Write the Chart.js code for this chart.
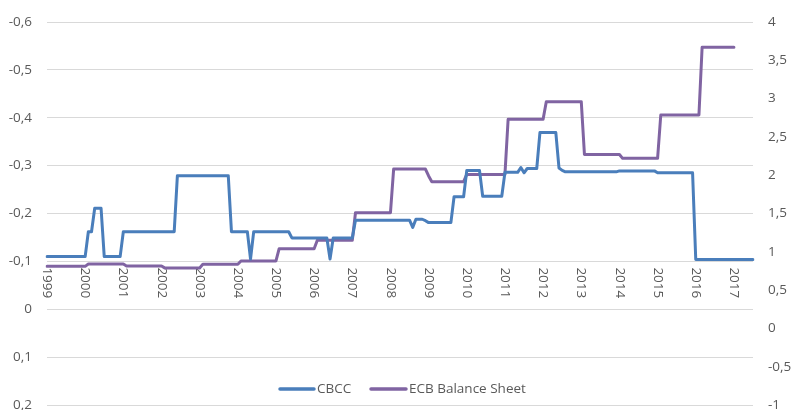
<!DOCTYPE html>
<html>
<head>
<meta charset="utf-8">
<script src="https://cdn.jsdelivr.net/npm/chart.js@4.4.1/dist/chart.umd.min.js"></script>
<style>
    html, body { margin: 0; padding: 0; background: #ffffff; overflow: hidden; }
</style>
</head>
<body>
<canvas id="mainChart" width="792" height="410"></canvas>
<script>
// años del eje X (una etiqueta por enero)
const yearLabels = ["1999", "2000", "2001", "2002", "2003", "2004", "2005", "2006", "2007",
    "2008", "2009", "2010", "2011", "2012", "2013", "2014", "2015", "2016", "2017"];
const monthNames = ["01", "02", "03", "04", "05", "06", "07", "08", "09", "10", "11", "12"];
const lastMonth = "2017-07";

// categorias mensuales 1999-01 .. 2017-07
const months = [];
yearLabels.forEach(function (y) {
    monthNames.forEach(function (m) {
        if (y + "-" + m <= lastMonth) months.push(y + "-" + m);
    });
});

// CBCC (eje izquierdo, invertido)
const cbcc = [
    -0.11, -0.11, -0.11, -0.11, -0.11, -0.11, -0.11, -0.11, -0.11, -0.11, -0.11, -0.11, -0.11,
    -0.162, -0.162,
    -0.211, -0.211, -0.211,
    -0.11, -0.11, -0.11, -0.11, -0.11, -0.11,
    -0.162, -0.162, -0.162, -0.162, -0.162, -0.162, -0.162, -0.162, -0.162, -0.162, -0.162, -0.162, -0.162, -0.162, -0.162, -0.162, -0.162,
    -0.279, -0.279, -0.279, -0.279, -0.279, -0.279, -0.279, -0.279, -0.279, -0.279, -0.279, -0.279, -0.279, -0.279, -0.279, -0.279, -0.279,
    -0.162, -0.162, -0.162, -0.162, -0.162, -0.162,
    -0.105,
    -0.162, -0.162, -0.162, -0.162, -0.162, -0.162, -0.162, -0.162, -0.162, -0.162, -0.162, -0.162,
    -0.149, -0.149, -0.149, -0.149, -0.149, -0.149, -0.149, -0.149, -0.149, -0.149, -0.149, -0.149,
    -0.105,
    -0.149, -0.149, -0.149, -0.149, -0.149, -0.149, -0.149,
    -0.186, -0.186, -0.186, -0.186, -0.186, -0.186, -0.186, -0.186, -0.186, -0.186, -0.186, -0.186, -0.186, -0.186, -0.186, -0.186, -0.186, -0.186,
    -0.171,
    -0.188, -0.188, -0.188,
    -0.185,
    -0.181, -0.181, -0.181, -0.181, -0.181, -0.181, -0.181, -0.181,
    -0.235, -0.235, -0.235, -0.235,
    -0.29, -0.29, -0.29, -0.29, -0.29,
    -0.236, -0.236, -0.236, -0.236, -0.236, -0.236, -0.236,
    -0.286, -0.286, -0.286, -0.286, -0.286,
    -0.296,
    -0.285,
    -0.294, -0.294, -0.294, -0.294,
    -0.369, -0.369, -0.369, -0.369, -0.369, -0.369,
    -0.295,
    -0.29,
    -0.287, -0.287, -0.287, -0.287, -0.287, -0.287, -0.287, -0.287, -0.287, -0.287, -0.287, -0.287, -0.287, -0.287, -0.287, -0.287, -0.287,
    -0.289, -0.289, -0.289, -0.289, -0.289, -0.289, -0.289, -0.289, -0.289, -0.289, -0.289, -0.289,
    -0.285, -0.285, -0.285, -0.285, -0.285, -0.285, -0.285, -0.285, -0.285, -0.285, -0.285, -0.285,
    -0.104, -0.104, -0.104, -0.104, -0.104, -0.104, -0.104, -0.104, -0.104, -0.104, -0.104, -0.104, -0.104, -0.104, -0.104, -0.104, -0.104, -0.104, -0.104
];

// ECB Balance Sheet (eje derecho)
const ecbBalance = [
    0.81, 0.81, 0.81, 0.81, 0.81, 0.81, 0.81, 0.81, 0.81, 0.81, 0.81, 0.81, 0.81,
    0.84, 0.84, 0.84, 0.84, 0.84, 0.84, 0.84, 0.84, 0.84, 0.84, 0.84, 0.84,
    0.815, 0.815, 0.815, 0.815, 0.815, 0.815, 0.815, 0.815, 0.815, 0.815, 0.815, 0.815,
    0.79, 0.79, 0.79, 0.79, 0.79, 0.79, 0.79, 0.79, 0.79, 0.79, 0.79, 0.79,
    0.837, 0.837, 0.837, 0.837, 0.837, 0.837, 0.837, 0.837, 0.837, 0.837, 0.837, 0.837,
    0.88, 0.88, 0.88, 0.88, 0.88, 0.88, 0.88, 0.88, 0.88, 0.88, 0.88, 0.88,
    1.04, 1.04, 1.04, 1.04, 1.04, 1.04, 1.04, 1.04, 1.04, 1.04, 1.04, 1.04,
    1.15, 1.15, 1.15, 1.15, 1.15, 1.15, 1.15, 1.15, 1.15, 1.15, 1.15, 1.15,
    1.51, 1.51, 1.51, 1.51, 1.51, 1.51, 1.51, 1.51, 1.51, 1.51, 1.51, 1.51,
    2.08, 2.08, 2.08, 2.08, 2.08, 2.08, 2.08, 2.08, 2.08, 2.08, 2.08,
    1.99,
    1.915, 1.915, 1.915, 1.915, 1.915, 1.915, 1.915, 1.915, 1.915, 1.915, 1.915,
    2.01, 2.01, 2.01, 2.01, 2.01, 2.01, 2.01, 2.01, 2.01, 2.01, 2.01, 2.01, 2.01,
    2.73, 2.73, 2.73, 2.73, 2.73, 2.73, 2.73, 2.73, 2.73, 2.73, 2.73, 2.73,
    2.96, 2.96, 2.96, 2.96, 2.96, 2.96, 2.96, 2.96, 2.96, 2.96, 2.96, 2.96,
    2.27, 2.27, 2.27, 2.27, 2.27, 2.27, 2.27, 2.27, 2.27, 2.27, 2.27, 2.27,
    2.22, 2.22, 2.22, 2.22, 2.22, 2.22, 2.22, 2.22, 2.22, 2.22, 2.22, 2.22,
    2.786, 2.786, 2.786, 2.786, 2.786, 2.786, 2.786, 2.786, 2.786, 2.786, 2.786, 2.786, 2.786,
    3.67, 3.67, 3.67, 3.67, 3.67, 3.67, 3.67, 3.67, 3.67, 3.67, 3.67,
    null, null, null, null, null, null
];

const seriesNames = ["CBCC", "ECB Balance Sheet"];
const seriesColors = ["#4a7ebb", "#8064a2"];

const textColor = "#595959";
const fontFamily = "'Open Sans', sans-serif";
const fontSize = 13.5;

// numeros con coma decimal
function fmt(v) {
    var r = Math.round(v * 10) / 10;
    return String(r).replace(".", ",");
}

// etiquetas de años giradas, bajo la linea de -0,1
const yearTicksPlugin = {
    id: "yearTicks",
    beforeDatasetsDraw: function (chart) {
        var ctx = chart.ctx;
        var xs = chart.scales.x;
        var top = chart.scales.y.getPixelForValue(-0.1) + 6;
        ctx.save();
        ctx.fillStyle = textColor;
        ctx.font = fontSize + "px " + fontFamily;
        ctx.textAlign = "left";
        ctx.textBaseline = "middle";
        yearLabels.forEach(function (y) {
            var i = months.indexOf(y + "-01");
            if (i < 0) return;
            ctx.save();
            ctx.translate(xs.getPixelForValue(i), top);
            ctx.rotate(Math.PI / 2);
            ctx.fillText(y, 0, 0);
            ctx.restore();
        });
        ctx.restore();
    }
};

// leyenda dentro del area (abajo, centrada)
const legendPlugin = {
    id: "innerLegend",
    afterDraw: function (chart) {
        var ctx = chart.ctx;
        var y = 389;
        var items = [
            { x: 280, w: 34 },
            { x: 371, w: 35 }
        ];
        ctx.save();
        ctx.font = fontSize + "px " + fontFamily;
        ctx.textBaseline = "middle";
        ctx.textAlign = "left";
        items.forEach(function (it, i) {
            ctx.strokeStyle = seriesColors[i];
            ctx.lineWidth = 3.5;
            ctx.lineCap = "round";
            ctx.beginPath();
            ctx.moveTo(it.x, y);
            ctx.lineTo(it.x + it.w, y);
            ctx.stroke();
            ctx.fillStyle = textColor;
            ctx.fillText(seriesNames[i], it.x + it.w + 3, y);
        });
        ctx.restore();
    }
};

document.addEventListener("DOMContentLoaded", function () {
    var ctx = document.getElementById("mainChart").getContext("2d");
    new Chart(ctx, {
        type: "line",
        data: {
            labels: months,
            datasets: [
                {
                    label: seriesNames[0],
                    data: cbcc,
                    yAxisID: "y",
                    borderColor: seriesColors[0],
                    borderWidth: 3,
                    borderJoinStyle: "round",
                    borderCapStyle: "round",
                    pointRadius: 0,
                    tension: 0,
                    fill: false
                },
                {
                    label: seriesNames[1],
                    data: ecbBalance,
                    yAxisID: "y2",
                    borderColor: seriesColors[1],
                    borderWidth: 3,
                    borderJoinStyle: "round",
                    borderCapStyle: "round",
                    pointRadius: 0,
                    tension: 0,
                    fill: false
                }
            ]
        },
        options: {
            responsive: false,
            animation: false,
            layout: {
                padding: { top: 22, bottom: 5, left: 0, right: 0 }
            },
            plugins: {
                legend: { display: false },
                tooltip: { enabled: false }
            },
            scales: {
                x: {
                    display: false
                },
                y: {
                    position: "left",
                    reverse: true,
                    min: -0.6,
                    max: 0.2,
                    ticks: {
                        stepSize: 0.1,
                        padding: 15,
                        color: textColor,
                        font: { family: fontFamily, size: fontSize },
                        callback: function (v) { return fmt(v); }
                    },
                    grid: { color: "#d9d9d9", lineWidth: 1, drawTicks: false },
                    border: { display: false },
                    afterFit: function (s) {
                        s.width = 47;
                        s.paddingTop = 0;
                        s.paddingBottom = 0;
                    }
                },
                y2: {
                    position: "right",
                    min: -1,
                    max: 4,
                    ticks: {
                        stepSize: 0.5,
                        padding: 15,
                        color: textColor,
                        font: { family: fontFamily, size: fontSize },
                        callback: function (v) { return fmt(v); }
                    },
                    grid: { display: false, drawTicks: false },
                    border: { display: false },
                    afterFit: function (s) {
                        s.width = 39;
                        s.paddingTop = 0;
                        s.paddingBottom = 0;
                    }
                }
            }
        },
        plugins: [yearTicksPlugin, legendPlugin]
    });
});
</script>
</body>
</html>
